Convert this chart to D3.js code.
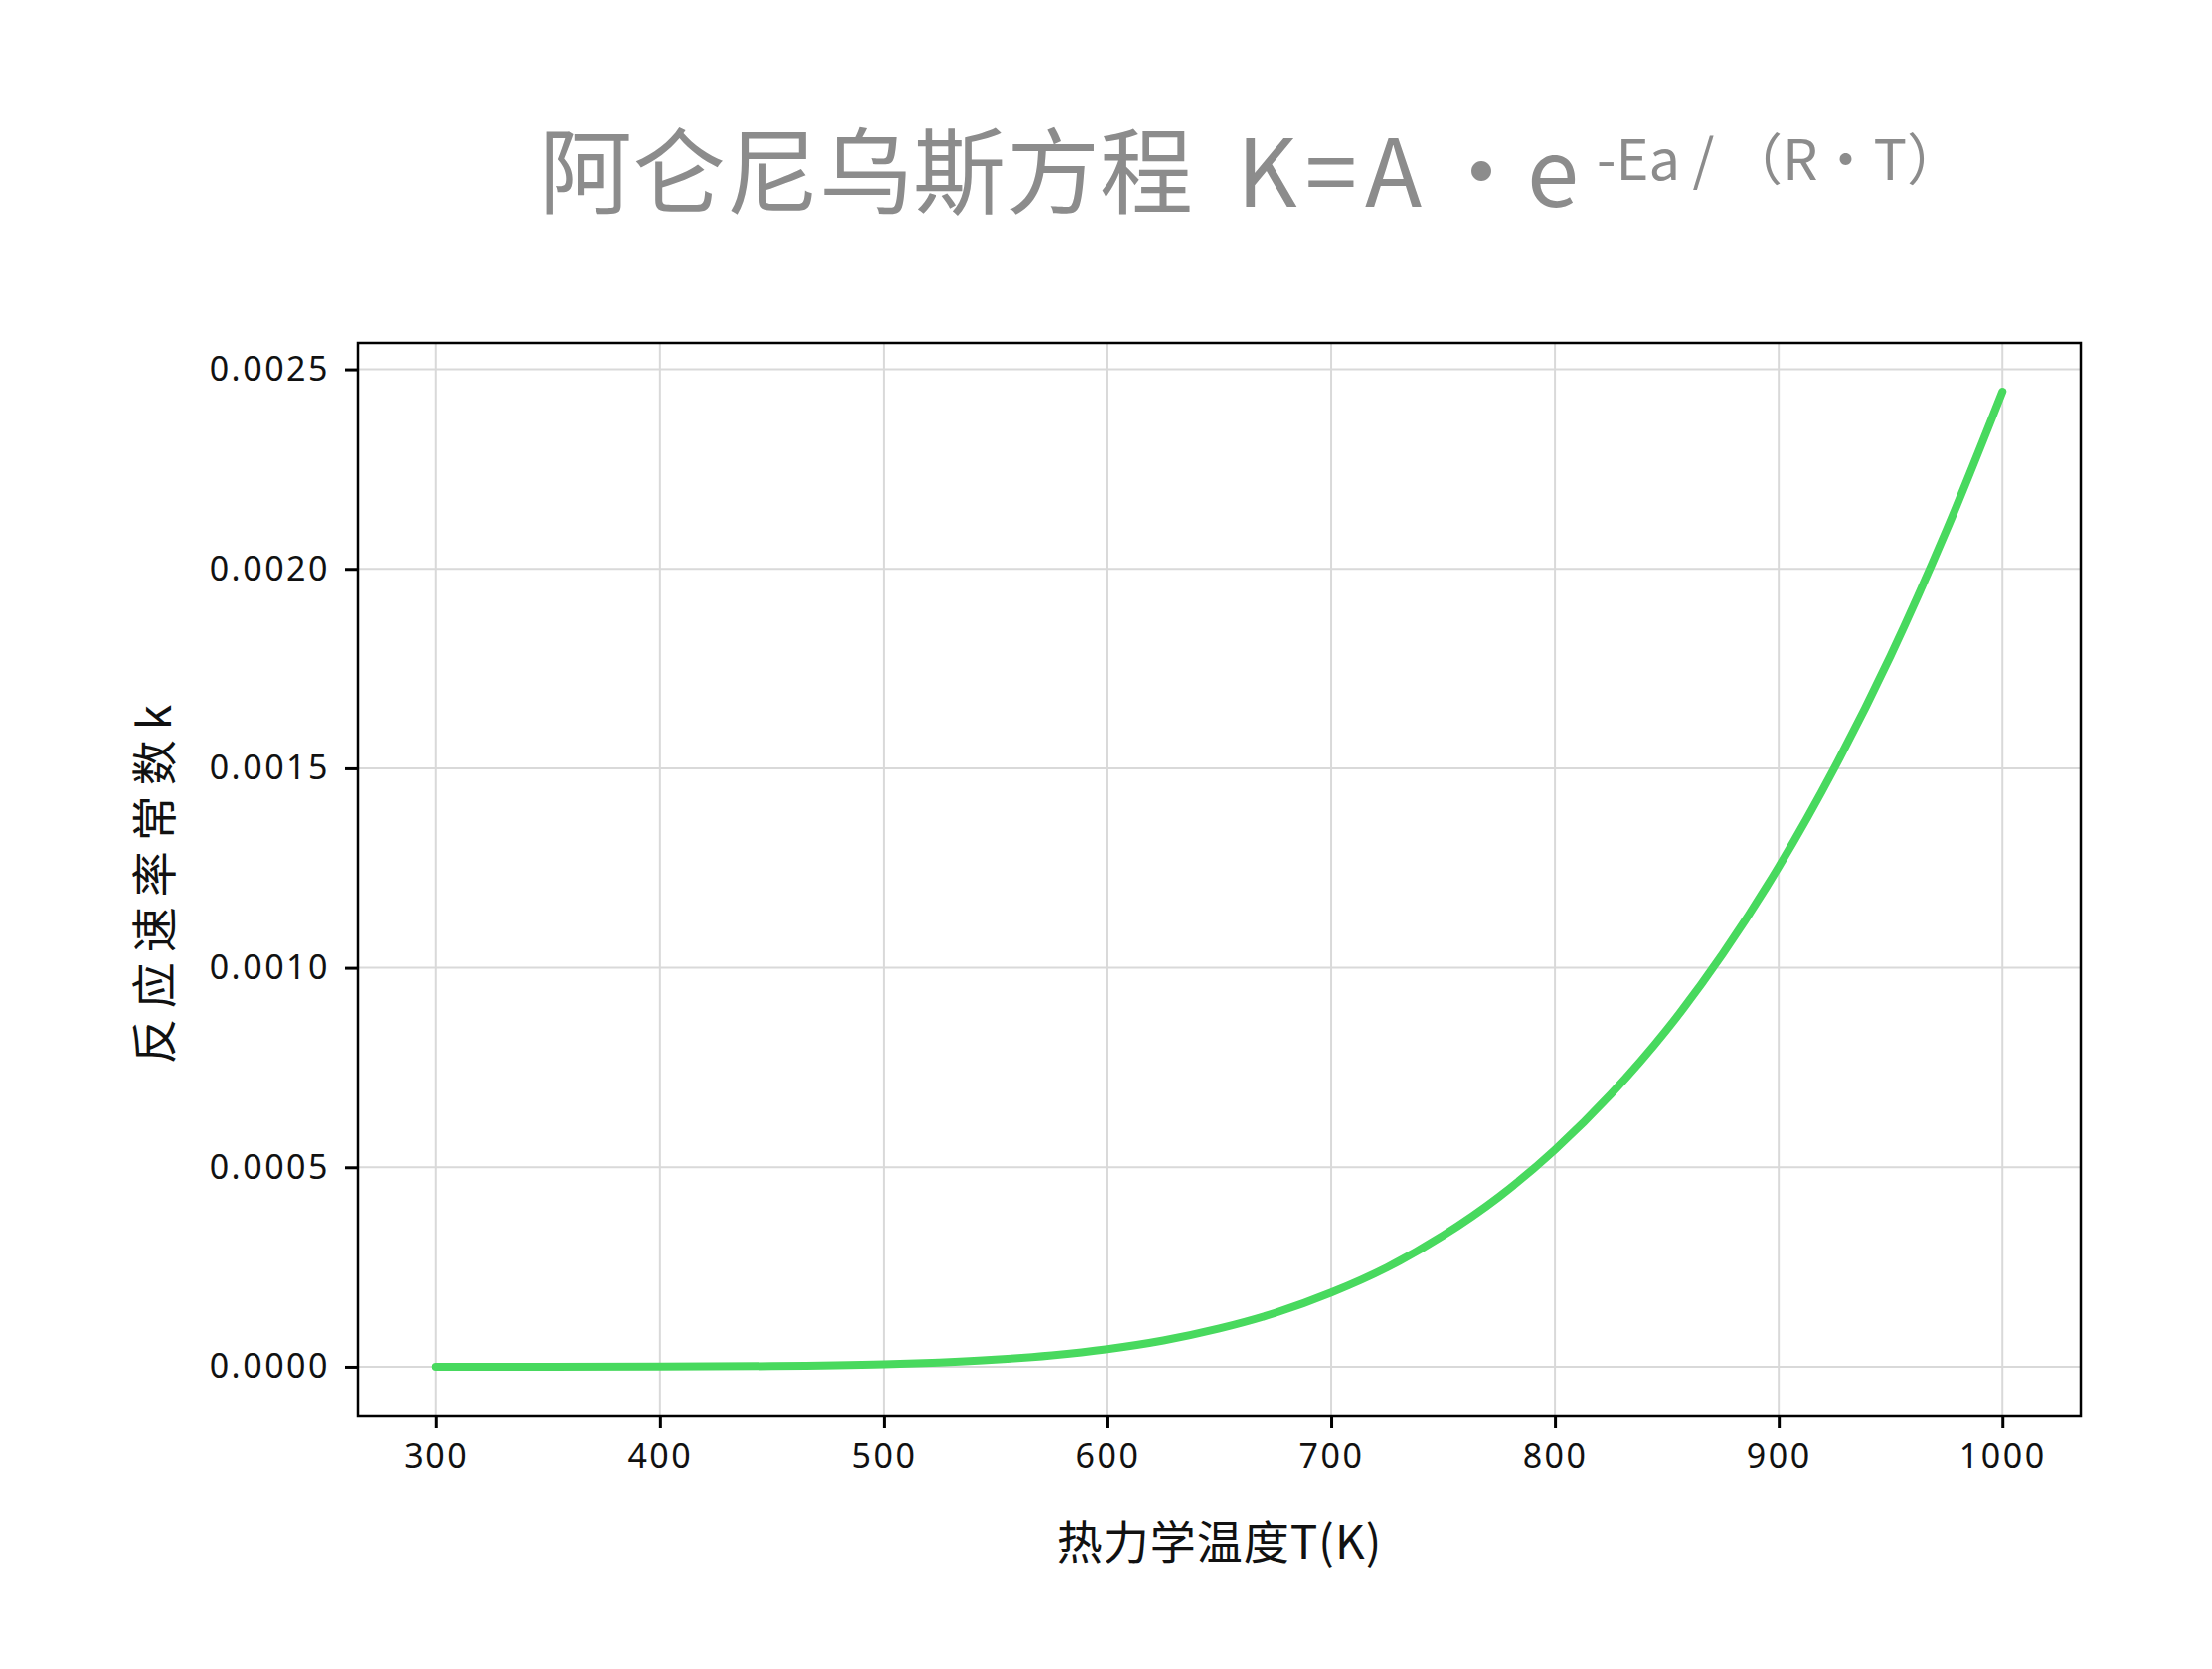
<!DOCTYPE html>
<html>
<head>
<meta charset="utf-8">
<script src="https://cdn.jsdelivr.net/npm/d3@7"></script>
<style>
  body { margin: 0; background: #fff; }
  svg { display: block; }
  .tick text { font-family: "Noto Sans", "Liberation Sans", sans-serif; }
  .title { font-family: "Noto Sans CJK SC", sans-serif; fill: #8c8c8c; }
</style>
</head>
<body>
<div id="viz"></div>
<script>
var width = 2225;
var height = 1679;
var margin = {top: 345, right: 132, bottom: 255, left: 360};

// temperature (K) and rate constant k
var temps = [300, 350, 400, 450, 500, 525, 550, 575, 600, 625, 650, 675, 700,
             725, 750, 775, 800, 825, 850, 875, 900, 925, 950, 975, 1000];
var rates = [0.0000000, 0.0000000, 0.0000003, 0.0000016, 0.0000060, 0.0000106,
             0.0000178, 0.0000287, 0.0000443, 0.0000660, 0.0000960, 0.0001350,
             0.0001860, 0.0002490, 0.0003290, 0.0004260, 0.0005440, 0.0006830,
             0.0008450, 0.0010350, 0.0012530, 0.0015020, 0.0017820, 0.0020970,
             0.0024440];

var xTicks = [300, 400, 500, 600, 700, 800, 900, 1000];
var yTicks = [0, 0.0005, 0.0010, 0.0015, 0.0020, 0.0025];

var titleCn = '阿仑尼乌斯方程';
var titleEq = 'K=A';
var titleDot = '・';
var titleE = 'e';
var titleSup = '-Ea / （R・T）';
var xLabel = '热力学温度T(K)';
var yLabel = '反应速率常数k';

var points = temps.map(function(t, i) { return {t: t, k: rates[i]}; });

var svg = d3.select('#viz').append('svg')
  .attr('width', width)
  .attr('height', height)
  .style('background', '#fff');

var plotW = width - margin.left - margin.right;
var plotH = height - margin.top - margin.bottom;

// 5% padding either side, like the original
var tExt = d3.extent(temps), kExt = d3.extent(rates);
var tPad = (tExt[1] - tExt[0]) * 0.05, kPad = (kExt[1] - kExt[0]) * 0.05;

var x = d3.scaleLinear()
  .domain([tExt[0] - tPad, tExt[1] + tPad])
  .range([margin.left, margin.left + plotW]);

var y = d3.scaleLinear()
  .domain([kExt[0] - kPad, kExt[1] + kPad])
  .range([margin.top + plotH, margin.top]);

// grid
var grid = svg.append('g').attr('class', 'grid');
grid.selectAll('.vg').data(xTicks).enter().append('line')
  .attr('x1', function(d) { return x(d); })
  .attr('x2', function(d) { return x(d); })
  .attr('y1', margin.top)
  .attr('y2', margin.top + plotH)
  .attr('stroke', '#d9d9d9')
  .attr('stroke-width', 2);
grid.selectAll('.hg').data(yTicks).enter().append('line')
  .attr('y1', function(d) { return y(d); })
  .attr('y2', function(d) { return y(d); })
  .attr('x1', margin.left)
  .attr('x2', margin.left + plotW)
  .attr('stroke', '#d9d9d9')
  .attr('stroke-width', 2);

// curve
var line = d3.line()
  .x(function(d) { return x(d.t); })
  .y(function(d) { return y(d.k); })
  .curve(d3.curveMonotoneX);

svg.append('path')
  .datum(points)
  .attr('d', line)
  .attr('fill', 'none')
  .attr('stroke', '#48d95e')
  .attr('stroke-width', 8)
  .attr('stroke-linecap', 'round')
  .attr('stroke-linejoin', 'round');

// axes
var xAxis = svg.append('g')
  .attr('transform', 'translate(0,' + (margin.top + plotH) + ')')
  .call(d3.axisBottom(x).tickValues(xTicks).tickSize(13).tickPadding(16)
    .tickFormat(d3.format('d')));

var yAxis = svg.append('g')
  .attr('transform', 'translate(' + margin.left + ',0)')
  .call(d3.axisLeft(y).tickValues(yTicks).tickSize(13).tickPadding(15)
    .tickFormat(d3.format('.4f')));

[xAxis, yAxis].forEach(function(g) {
  g.select('.domain').remove();
  g.selectAll('.tick line').attr('stroke', '#000').attr('stroke-width', 3);
  g.selectAll('.tick text')
    .attr('fill', '#111')
    .style('font-size', '34px')
    .style('letter-spacing', '2.5px');
});

// frame
svg.append('rect')
  .attr('x', margin.left)
  .attr('y', margin.top)
  .attr('width', plotW)
  .attr('height', plotH)
  .attr('fill', 'none')
  .attr('stroke', '#000')
  .attr('stroke-width', 2.5);

// axis labels
svg.append('text')
  .attr('x', margin.left + plotW / 2)
  .attr('y', 1568)
  .attr('text-anchor', 'middle')
  .style('font-family', '"Noto Sans CJK SC", sans-serif')
  .style('font-size', '46px')
  .style('letter-spacing', '1px')
  .attr('fill', '#111')
  .text(xLabel);

svg.append('text')
  .attr('transform', 'translate(172,' + (margin.top + plotH / 2) + ') rotate(-90)')
  .attr('text-anchor', 'middle')
  .style('font-family', '"Noto Sans CJK SC", sans-serif')
  .style('font-size', '46px')
  .style('letter-spacing', '10px')
  .attr('fill', '#111')
  .text(yLabel);

// title
var title = svg.append('g').attr('class', 'title').style('font-size', '94px');
title.append('text').attr('x', 542).attr('y', 208).text(titleCn);
title.append('text').attr('x', 1244).attr('y', 208)
  .style('letter-spacing', '8px').text(titleEq);
title.append('text').attr('x', 1490).attr('y', 208)
  .attr('text-anchor', 'middle').text(titleDot);
title.append('text').attr('x', 1536).attr('y', 208).text(titleE);
title.append('text').attr('x', 1606).attr('y', 181)
  .style('font-size', '56px').text(titleSup);
</script>
</body>
</html>
